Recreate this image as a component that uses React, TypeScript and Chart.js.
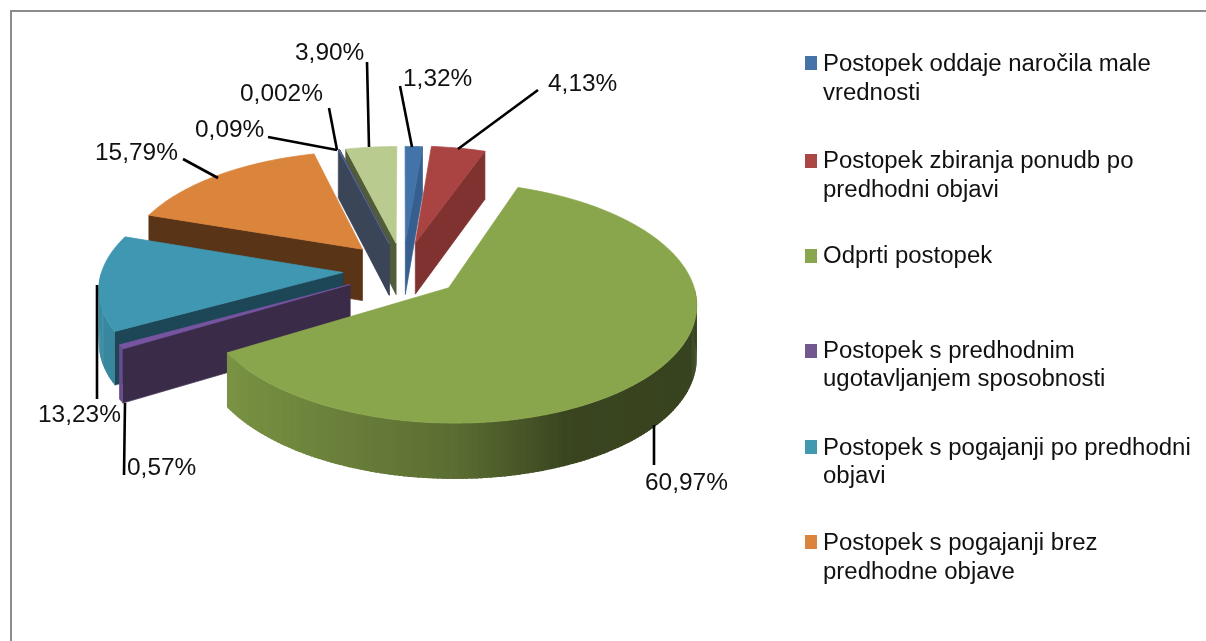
import React, { useEffect, useRef } from "react";
import { Chart, registerables } from "chart.js";

Chart.register(...registerables);

const categories = [
  ["Postopek oddaje naročila male", "vrednosti"],
  ["Postopek zbiranja ponudb po", "predhodni objavi"],
  ["Odprti postopek"],
  ["Postopek s predhodnim", "ugotavljanjem sposobnosti"],
  ["Postopek s pogajanji po predhodni", "objavi"],
  ["Postopek s pogajanji brez", "predhodne objave"],
];
const values = [1.32, 4.13, 60.97, 0.57, 13.23, 15.79, 0.09, 0.002, 3.9];
const valueLabels = ["1,32%", "4,13%", "60,97%", "0,57%", "13,23%", "15,79%", "0,09%", "0,002%", "3,90%"];
const explode = [58, 60, 58, 60, 60, 61, 58, 58, 58];
const topColors = ["#4374A9", "#A94442", "#8AA64C", "#7654A0", "#3F97B1", "#DA843C", "#4A6A9E", "#772C2A", "#B9CB8F"];
const wallColors = ["#365F90", "#7F3230", "#4A5A28", "#3A2B49", "#1D4656", "#5A3416", "#3B4558", "#3B4558", "#515C3B"];
const legendColors = ["#4572A7", "#AA4643", "#89A54E", "#71588F", "#4198AF", "#DB843D"];

// Layout of the annotations: [text left, text centre y, leader x1, y1, x2, y2]
const labelLayout = [
  [403, 78, 400, 86, 412, 147],
  [548, 83, 538, 90, 458, 149],
  [645, 482, 654, 425, 654, 465],
  [127, 467, 125, 403, 124, 475],
  [38, 414, 97, 285, 97, 399],
  [95, 152, 183, 159, 218, 178],
  [195, 129, 268, 137, 337, 150],
  [240, 93, 329, 108, 337, 150],
  [295, 52, 367, 62, 369, 147],
];
const legendLayout = [
  [63, 71, 100],
  [161, 168, 197],
  [256, 263],
  [351, 358, 386],
  [447, 455, 483],
  [542, 550, 579],
];

const LEGEND_FONT = '23px "Liberation Sans", Arial, sans-serif';
const LABEL_FONT = '23.5px "Liberation Sans", Arial, sans-serif';
const LEGEND_STRETCH = 1.042;
const LABEL_STRETCH = 1.04;

function mix(hex: string, f: number) {
  const n = parseInt(hex.slice(1), 16);
  const c = [(n >> 16) & 255, (n >> 8) & 255, n & 255].map((v) => Math.round(v * f));
  return `rgb(${c[0]},${c[1]},${c[2]})`;
}

function shade(x: number) {
  if (x < 0) return 0.66 + (-x) * 0.26;
  if (x < 0.4) return 0.66 - (x / 0.4) * 0.24;
  return 0.42 - ((x - 0.4) / 0.6) * 0.02;
}

const pie3d = {
  id: "pie3d",
  beforeDatasetDraw(chart: any) {
    const ctx = chart.ctx as CanvasRenderingContext2D;
    const meta = chart.getDatasetMeta(0);
    const K = 0.12;
    const FLAT = 0.475;
    const order = meta.data
      .map((arc: any, i: number) => ({ arc, i, m: (arc.startAngle + arc.endAngle) / 2 }))
      .sort((a: any, b: any) => Math.sin(a.m) - Math.sin(b.m));

    for (const { arc, i, m } of order) {
      const R = arc.outerRadius;
      const off = arc.options.offset / R;
      const ox = Math.cos(m) * off;
      const oy = Math.sin(m) * off;
      const p = (X: number, Y: number, z: number) => {
        const s = 1 / (1 - K * Y);
        return [arc.x + R * X * s, arc.y + R * FLAT * Y * s + z * (52 + 3.3 * Y)];
      };
      const rim = (a: number, z: number) => p(ox + Math.cos(a), oy + Math.sin(a), z);
      const a0 = arc.startAngle;
      const a1 = arc.endAngle;
      const steps = Math.max(1, Math.ceil(((a1 - a0) * 180) / Math.PI));
      const poly = (pts: number[][], color: string, edge = true) => {
        ctx.beginPath();
        pts.forEach((q, n) => (n ? ctx.lineTo(q[0], q[1]) : ctx.moveTo(q[0], q[1])));
        ctx.closePath();
        ctx.fillStyle = color;
        ctx.fill();
        if (edge) {
          ctx.strokeStyle = color;
          ctx.lineWidth = 0.7;
          ctx.stroke();
        }
      };
      // radial walls
      if (Math.sin(a0 - Math.PI / 2) > 0) {
        poly([p(ox, oy, 0), rim(a0, 0), rim(a0, 1), p(ox, oy, 1)], wallColors[i]);
      }
      if (Math.sin(a1 + Math.PI / 2) > 0) {
        poly([p(ox, oy, 0), rim(a1, 0), rim(a1, 1), p(ox, oy, 1)], wallColors[i]);
      }
      // outer band: each strip overlaps the next so that no seams show
      const step = (a1 - a0) / steps;
      for (let n = 0; n < steps; n++) {
        const u = a0 + step * n;
        const v = Math.min(u + step * 1.6, a1);
        const c = u + step / 2;
        if (Math.sin(c) <= 0) continue;
        poly([rim(u, 0), rim(v, 0), rim(v, 1), rim(u, 1)], mix(topColors[i], shade(Math.cos(c))), false);
      }
      // top surface
      const top = [p(ox, oy, 0)];
      for (let n = 0; n <= steps; n++) top.push(rim(a0 + step * n, 0));
      poly(top, topColors[i]);
    }
    return false;
  },
  afterDraw(chart: any) {
    const ctx = chart.ctx as CanvasRenderingContext2D;
    const text = (s: string, x: number, y: number, stretch: number) => {
      ctx.save();
      ctx.translate(x, y);
      ctx.scale(stretch, 1);
      ctx.fillText(s, 0, 0);
      ctx.restore();
    };
    ctx.save();
    // frame
    ctx.strokeStyle = "#8C8C8C";
    ctx.lineWidth = 2;
    ctx.beginPath();
    ctx.moveTo(11, 641);
    ctx.lineTo(11, 11);
    ctx.lineTo(1206, 11);
    ctx.stroke();
    // leaders and value labels
    ctx.font = LABEL_FONT;
    ctx.textBaseline = "alphabetic";
    ctx.textAlign = "left";
    ctx.fillStyle = "#111";
    ctx.strokeStyle = "#000";
    ctx.lineWidth = 2.6;
    labelLayout.forEach((l, i) => {
      ctx.beginPath();
      ctx.moveTo(l[2], l[3]);
      ctx.lineTo(l[4], l[5]);
      ctx.stroke();
      text(valueLabels[i], l[0], l[1] + 8, LABEL_STRETCH);
    });
    // legend
    ctx.font = LEGEND_FONT;
    categories.forEach((lines, i) => {
      const row = legendLayout[i];
      ctx.fillStyle = legendColors[i];
      ctx.fillRect(805, row[0] - 7, 12, 14);
      ctx.fillStyle = "#111";
      lines.forEach((s, n) => text(s, 823, row[n + 1], LEGEND_STRETCH));
    });
    ctx.restore();
  },
};

export default function App() {
  const ref = useRef<HTMLCanvasElement>(null);
  useEffect(() => {
    const chart = new Chart(ref.current as HTMLCanvasElement, {
      type: "pie",
      data: {
        labels: values.map((_, i) => (categories[i] ? categories[i].join(" ") : valueLabels[i])),
        datasets: [
          {
            data: values,
            backgroundColor: topColors,
            borderWidth: 0,
            offset: explode,
            radius: 241,
          } as any,
        ],
      },
      options: {
        animation: false,
        responsive: false,
        events: [],
        layout: { padding: { left: 0, top: 0, right: 400, bottom: 101 } },
        plugins: { legend: { display: false }, tooltip: { enabled: false }, title: { display: false } },
      },
      plugins: [pie3d as any],
    });
    return () => chart.destroy();
  }, []);
  return (
    <div style={{ position: "absolute", left: 0, top: 0, width: 1206, height: 641, background: "#fff", overflow: "hidden" }}>
      <canvas ref={ref} width={1206} height={641} style={{ display: "block", filter: "blur(0.4px)" }} />
    </div>
  );
}
